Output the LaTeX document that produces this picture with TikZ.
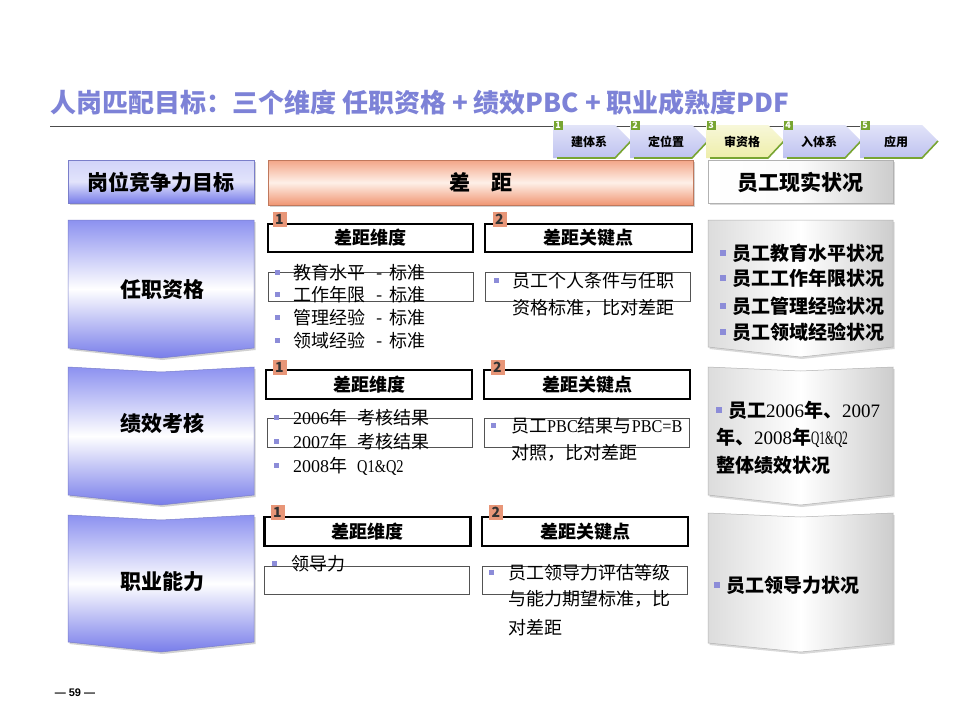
\documentclass[tikz,border=0pt]{standalone}
\usepackage{fontspec}
\usepackage{graphicx}
\setmainfont{Noto Sans CJK SC}
\newfontfamily\sernum{Liberation Serif}
\newfontfamily\lsans{Liberation Sans}
\newcommand\serN[1]{{\sernum\mdseries #1}}
\definecolor{ttl}{RGB}{125,130,215}
\definecolor{bltop}{RGB}{140,145,240}
\definecolor{blbot}{RGB}{120,125,234}
\definecolor{ortop}{RGB}{243,165,135}
\definecolor{ormid}{RGB}{254,240,232}
\definecolor{orbot}{RGB}{240,150,115}
\definecolor{gyside}{RGB}{205,205,205}
\definecolor{tagor}{RGB}{232,150,120}
\definecolor{bul}{RGB}{140,140,216}
\definecolor{stepbl}{RGB}{190,194,240}
\definecolor{stepyl}{RGB}{238,238,170}
\definecolor{stepgr}{RGB}{120,165,50}
\newcommand\vchev[7]{\path[#7] (#1,#3) -- ({(#1+#2)/2},{#3+#4}) -- (#2,#3) -- (#2,#5) -- ({(#1+#2)/2},#6) -- (#1,#5) -- cycle;}
\begin{document}
\begin{tikzpicture}[x=1pt,y=-1pt,
  bluechev/.style={top color=bltop, bottom color=blbot, middle color=white, draw=blbot!70!gray, line width=0.5pt,
     preaction={fill=black!18, transform canvas={xshift=1.5pt,yshift=-2pt}}},
  graychev/.style={left color=gyside!70!white, right color=gyside, middle color=white, draw=gray!60, line width=0.5pt,
     preaction={fill=black!15, transform canvas={xshift=1.5pt,yshift=-2pt}}},
  hdrtxt/.style={font=\bfseries\fontsize{21}{21}\selectfont},
  chevtxt/.style={font=\bfseries\fontsize{21}{21}\selectfont},
  hdrbox/.style={draw=black, line width=2.5pt, fill=white, inner sep=0pt, font=\bfseries\fontsize{18}{18}\selectfont},
  thinbox/.style={draw=gray!65!black, line width=0.9pt},
  tag/.style={fill=tagor, inner sep=0pt, minimum width=14pt, minimum height=15pt, font=\bfseries\fontsize{14}{14}\selectfont, text=black!80},
  bulsq/.style={fill=bul, inner sep=0pt, minimum size=5pt},
  bulbig/.style={fill=bul, inner sep=0pt, minimum size=6pt},
  txt/.style={anchor=base west, inner sep=0pt, font=\fontsize{18}{18}\selectfont},
  rtxt/.style={anchor=base west, inner sep=0pt, font=\bfseries\fontsize{19}{19}\selectfont},
  steptxt/.style={font=\bfseries\fontsize{12}{12}\selectfont},
  stepnum/.style={fill=stepgr, text=white, inner sep=0pt, minimum size=9pt, font=\bfseries\fontsize{9}{9}\selectfont}
]
\fill[white] (0,0) rectangle (960,720);
\useasboundingbox (0,0) rectangle (960,720);

% title
\node[anchor=base west, inner sep=0pt, text=ttl, font=\bfseries\fontsize{26}{26}\selectfont] (title) at (50,112)
  {人岗匹配目标：三个维度 任职资格 + 绩效PBC + 职业成熟度PDF};
\draw[line width=0.8pt, black!70] (50,126) -- (912,126);

% step bar
\foreach \x/\t/\c [count=\k] in {553/建体系/stepbl, 630/定位置/stepbl, 706/审资格/stepyl, 783/入体系/stepbl, 860/应用/stepbl}{
  \path[top color=\c!45!white, bottom color=\c] (\x,125) -- (\x+62,125) -- (\x+78,141) -- (\x+62,158) -- (\x,158) -- cycle;
  \draw[stepgr, line width=1.6pt] (\x+4,158) -- (\x+62,158) -- (\x+78,141);
  \node[steptxt] (step\k) at (\x+36,142) {\t};
  \node[stepnum] (stepn\k) at (\x+5,125) {\k};
}

% header row
\shade[top color=bltop!40!white, bottom color=blbot, middle color=white!75!bltop, draw=blbot!70!gray, line width=0.5pt,
  preaction={fill=black!18, transform canvas={xshift=1.5pt,yshift=-2pt}}] (68,160) rectangle (254,203);
\node[hdrtxt] (hgoal) at (161,182) {岗位竞争力目标};
\shade[top color=ortop, bottom color=orbot, middle color=ormid, draw=orbot!80!black, line width=0.5pt,
  preaction={fill=black!18, transform canvas={xshift=1.5pt,yshift=-2pt}}] (268,160) rectangle (693,205);
\node[hdrtxt] (hgap) at (481,182) {差　距};
\shade[left color=white, right color=gyside, middle color=white!92!gyside, draw=gray!60, line width=0.5pt,
  preaction={fill=black!15, transform canvas={xshift=1.5pt,yshift=-2pt}}] (708,160) rectangle (893,203);
\node[hdrtxt] (hreal) at (800,182) {员工现实状况};

% left chevrons
\vchev{68}{254}{220}{0}{348}{358}{bluechev}
\vchev{68}{254}{367}{5}{495}{505}{bluechev}
\vchev{68}{254}{515}{5}{642}{652}{bluechev}
\node[chevtxt] (c1) at (162,290) {任职资格};
\node[chevtxt] (c2) at (162,423) {绩效考核};
\node[chevtxt] (c3) at (162,582) {职业能力};

% right chevrons
\vchev{708}{893}{220}{0}{347}{357}{graychev}
\vchev{708}{893}{367}{4}{495}{505}{graychev}
\vchev{708}{893}{513}{4}{643}{652}{graychev}

% ---------- row 1 ----------
\node[hdrbox, minimum width=205pt, minimum height=28pt] (h1a) at (370.5,238) {差距维度};
\node[hdrbox, minimum width=207pt, minimum height=28pt] (h1b) at (588.5,238) {差距关键点};
\node[tag] (t1a) at (279.5,219.5) {1};
\node[tag] (t1b) at (499.5,219.5) {2};
\draw[thinbox] (268,272) rectangle (473,301);
\draw[thinbox] (485,272) rectangle (690,301);
\foreach \y/\t [count=\k] in {272/教育水平, 294/工作年限, 317/管理经验, 340/领域经验}{
  \node[bulsq] (r1ab\k) at (277,\y) {};
  \node[txt] (r1at\k) at (293,\y+7) {\t\hspace{11pt}-\hspace{7pt}标准};
}
\node[bulsq] (r1bb) at (496,280) {};
\node[txt] (r1bt1) at (512,287) {员工个人条件与任职};
\node[txt] (r1bt2) at (512,314) {资格标准，比对差距};
\node[bulbig] (q1b1) at (723,253) {};
\node[bulbig] (q1b2) at (723,278) {};
\node[bulbig] (q1b3) at (723,306) {};
\node[bulbig] (q1b4) at (723,332) {};
\node[rtxt] (q1t1) at (732,260) {员工教育水平状况};
\node[rtxt] (q1t2) at (732,285) {员工工作年限状况};
\node[rtxt] (q1t3) at (732,313) {员工管理经验状况};
\node[rtxt] (q1t4) at (732,339) {员工领域经验状况};

% ---------- row 2 ----------
\node[hdrbox, minimum width=206pt, minimum height=29pt] (h2a) at (369,384.5) {差距维度};
\node[hdrbox, minimum width=206pt, minimum height=29pt] (h2b) at (587,384.5) {差距关键点};
\node[tag] (t2a) at (279.5,367.5) {1};
\node[tag] (t2b) at (497.5,367.5) {2};
\draw[thinbox] (267,418) rectangle (472,447);
\draw[thinbox] (484,418) rectangle (689,447);
\node[bulsq] (r2ab1) at (276,417) {};
\node[bulsq] (r2ab2) at (276,441) {};
\node[bulsq] (r2ab3) at (276,465) {};
\node[txt] (r2at1) at (293,424) {\serN{2006}年\hspace{10pt}考核结果};
\node[txt] (r2at2) at (293,448) {\serN{2007}年\hspace{10pt}考核结果};
\node[txt] (r2at3) at (293,472) {\serN{2008}年\hspace{10pt}\serN{\scalebox{0.8}[1]{Q1\&Q2}}};
\node[bulsq] (r2bb) at (493,425) {};
\node[txt] (r2bt1) at (511,432) {员工\serN{\scalebox{0.9}[1]{PBC}}结果与\serN{\scalebox{0.9}[1]{PBC=B}}};
\node[txt] (r2bt2) at (511,459) {对照，比对差距};
\node[bulbig] (q2b) at (719,410) {};
\node[rtxt] (q2t1) at (728,417) {员工\serN{2006}年、\serN{2007}};
\node[rtxt] (q2t2) at (716,444) {年、\serN{2008}年\serN{\scalebox{0.6}[1]{Q1\&Q2}}};
\node[rtxt] (q2t3) at (716,472) {整体绩效状况};

% ---------- row 3 ----------
\node[hdrbox, minimum width=206pt, minimum height=29pt] (h3a) at (367.5,531.5) {差距维度};
\node[hdrbox, minimum width=206pt, minimum height=29pt] (h3b) at (585,531.5) {差距关键点};
\node[tag] (t3a) at (277.5,512.5) {1};
\node[tag] (t3b) at (496,512.5) {2};
\draw[thinbox] (264,566) rectangle (469,594);
\draw[thinbox] (482,566) rectangle (687,594);
\node[bulsq] (r3ab) at (274,563) {};
\node[txt] (r3at) at (291,570) {领导力};
\node[bulsq] (r3bb) at (491,572) {};
\node[txt] (r3bt1) at (508,579) {员工领导力评估等级};
\node[txt] (r3bt2) at (508,605) {与能力期望标准，比};
\node[txt] (r3bt3) at (508,634) {对差距};
\node[bulbig] (q3b) at (717,585) {};
\node[rtxt] (q3t) at (726,592) {员工领导力状况};

% page number
\node[font=\lsans\bfseries\fontsize{11}{11}\selectfont] (page) at (75,693) {— 59 —};
\end{tikzpicture}
\end{document}
